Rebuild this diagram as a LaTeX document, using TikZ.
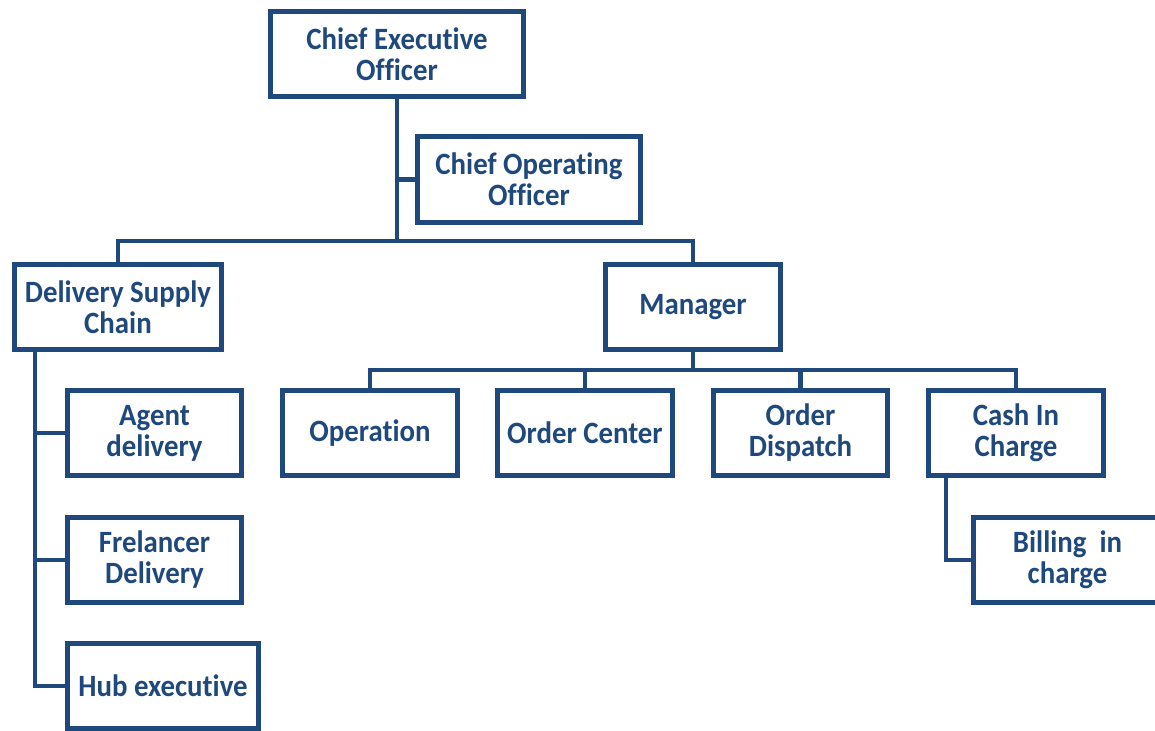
\documentclass[tikz,border=0pt]{standalone}
\usepackage{fontspec}
\setmainfont{Carlito}[Ligatures=NoCommon, FakeStretch=0.93]
\definecolor{orgblue}{HTML}{1F497D}
\begin{document}
\begin{tikzpicture}[x=1pt,y=-1pt,
  box/.style={draw=orgblue, line width=5pt, fill=white, align=center,
    text=orgblue, inner sep=0pt, minimum height=85pt,
    font=\fontsize{31}{31}\selectfont\bfseries},
  link/.style={draw=orgblue, line width=4.6pt, line join=miter}]
\useasboundingbox (0,0) rectangle (1155,730);
\clip (0,0) rectangle (1155,730);

% boxes
\node[box, minimum width=253pt] (ceo)   at (397,54)    {Chief Executive\\Officer};
\node[box, minimum width=223pt] (coo)   at (529,179.5) {Chief Operating\\Officer};
\node[box, minimum width=207pt] (dsc)   at (118,307)   {Delivery Supply\\Chain};
\node[box, minimum width=175pt] (mgr)   at (693,307)   {Manager};
\node[box, minimum width=175pt] (op)    at (370,433)   {Operation};
\node[box, minimum width=175pt] (oc)    at (585,433)   {Order Center};
\node[box, minimum width=174pt] (od)    at (800.5,433) {Order\\Dispatch};
\node[box, minimum width=175pt] (cash)  at (1016,433)  {Cash In\\Charge};
\node[box, minimum width=189pt] (bill)  at (1067.5,560) {Billing\ \ in\\charge};
\node[box, minimum width=174pt] (agent) at (154.5,433) {Agent\\delivery};
\node[box, minimum width=174pt] (frel)  at (154.5,560) {Frelancer\\Delivery};
\node[box, minimum width=191pt] (hub)   at (163,686)   {Hub executive};

% junction points
\coordinate (bus)  at (397,241);
\coordinate (mbus) at (693,370);
\coordinate (dx)   at (35,0);
\coordinate (cx)   at (946,0);

% top level
\draw[link] (ceo.south) -- (bus);
\draw[link] (coo.west) -- (coo.west -| bus);
\draw[link] (dsc.north) |- (bus) -| (mgr.north);

% manager's departments
\draw[link] (mgr.south) -- (mbus);
\draw[link] (op.north) |- (mbus) -| (cash.north);
\draw[link] (oc.north) -- (oc.north |- mbus);
\draw[link] (od.north) -- (od.north |- mbus);

% delivery supply chain
\draw[link] (dsc.south -| dx) |- (hub.west);
\draw[link] (agent.west) -- (agent.west -| dx);
\draw[link] (frel.west) -- (frel.west -| dx);

% cash in charge
\draw[link] (cash.south -| cx) |- (bill.west);
\end{tikzpicture}
\end{document}
